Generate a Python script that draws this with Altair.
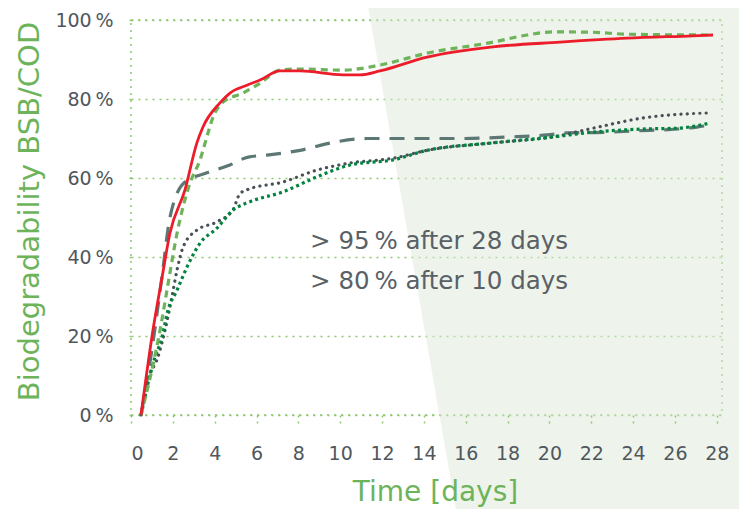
import altair as alt
import pandas as pd

# ---- data (days, % biodegradability) ----
red_x = [0.48, 1.05, 1.48, 1.86, 2.58, 3.15, 3.44, 4.25, 4.73, 5.54, 6.17, 7.12, 8.08, 10.13, 10.95, 11.90, 14.15, 17.30, 20.51, 23.71, 26.86, 27.82]
red_y = [0, 21.5, 34.7, 46, 57, 68.9, 72.9, 79, 81.5, 83.5, 84.8, 87.1, 87.1, 86.1, 86.1, 87.1, 90.6, 93.2, 94.4, 95.4, 96.0, 96.2]

lgreen_x = [0.48, 1.39, 1.82, 2.20, 2.82, 3.30, 3.68, 3.92, 4.40, 5.35, 6.17, 7.12, 8.08, 10.13, 11.90, 14.15, 17.30, 18.93, 20.17, 22.08, 23.71, 27.68]
lgreen_y = [0, 21.5, 34.7, 46, 58.7, 64.6, 71.4, 75.4, 79.2, 81.5, 84, 87.3, 87.6, 87.3, 88.6, 91.6, 94.4, 96.2, 97.0, 96.9, 96.4, 96.2]

slate_x = [0.48, 1.00, 1.48, 1.86, 2.58, 3.63, 4.73, 5.60, 6.50, 8.08, 9.66, 11.28, 15.73, 18.12, 19.89, 20.84, 22.90, 24.00, 26.10, 27.05, 27.68]
slate_y = [0, 16.5, 35, 50, 59, 61.3, 63.3, 65.3, 65.8, 67, 69, 70, 70, 70.4, 70.9, 71.4, 71.6, 71.9, 72.4, 72.9, 73.4]

gray_x = [0.48, 0.76, 1.29, 1.63, 1.96, 2.20, 2.49, 3.15, 4.11, 4.88, 5.20, 5.54, 7.27, 8.89, 10.47, 12.52, 14.15, 17.30, 20.17, 22.08, 24.47, 27.68]
gray_y = [0, 8, 14.7, 21.5, 30, 36.7, 42.5, 46.8, 48.9, 52, 56, 57, 59, 62, 63.8, 65, 67, 68.9, 70.4, 72.6, 75.2, 76.5]

dgreen_x = [0.48, 1.05, 1.48, 1.77, 2.20, 2.68, 3.30, 4.11, 4.88, 5.69, 7.27, 8.89, 10.47, 12.52, 14.15, 17.30, 20.17, 22.08, 24.47, 26.10, 27.68]
dgreen_y = [0, 13, 19.7, 26.6, 31.6, 37.5, 43.5, 47.3, 51.9, 54, 56.5, 60.3, 63.3, 64.6, 67, 68.9, 70.4, 71.6, 72.4, 72.6, 73.9]

x_ticks = list(range(0, 29, 2))
y_ticks = [0, 20, 40, 60, 80, 100]
notes = ["> 95\u2009% after 28 days", "> 80\u2009% after 10 days"]

GRID = "#8DC86F"
LABEL = "#50575C"
TITLE = "#6DB35A"
FONT = "DejaVu Sans"

x_scale = alt.Scale(domain=[0, 28.25], nice=False, zero=False)
y_scale = alt.Scale(domain=[0, 100], nice=False, zero=False)

x_axis = alt.Axis(values=x_ticks, grid=False, domain=False, ticks=True,
                  tickColor=GRID, tickDash=[2, 4], tickWidth=1.5, tickSize=12,
                  labelFontSize=19, labelColor=LABEL, labelPadding=17,
                  labelFont=FONT,
                  title="Time [days]", titleFontSize=28, titleColor=TITLE,
                  titleFont=FONT, titleFontWeight="normal", titleX=304,
                  titleY=85, titleBaseline="alphabetic", zindex=1)
y_axis = alt.Axis(values=y_ticks, grid=True, gridColor=GRID, gridDash=[2, 5],
                  gridWidth=1.5, domain=False, ticks=True, tickColor=GRID,
                  tickDash=[2, 5], tickWidth=1.5, tickSize=7,
                  labelExpr="datum.value + '\u2009%'", labelFontSize=19,
                  labelColor=LABEL, labelPadding=11, labelFont=FONT,
                  title="Biodegradability BSB/COD", titleFontSize=29,
                  titleColor=TITLE, titleFont=FONT, titleFontWeight="normal",
                  titleX=-93, titleY=191, titleBaseline="alphabetic")

X = alt.X("x:Q", scale=x_scale, axis=x_axis)
Y = alt.Y("y:Q", scale=y_scale, axis=y_axis)

# background tinted region (decoration)
bg = pd.DataFrame({"y": [112, -32], "x": [11.05, 15.80], "x2": [30, 30]})
bg_layer = alt.Chart(bg).mark_area(orient="horizontal", color="#DDE7D9",
                                   opacity=0.5, clip=False).encode(
    y=Y, x=X, x2="x2:Q")


def line(xs, ys, color, width, dash=None, cap="butt"):
    d = pd.DataFrame({"x": xs, "y": ys})
    kw = dict(color=color, strokeWidth=width, interpolate="monotone", strokeCap=cap)
    if dash is not None:
        kw["strokeDash"] = dash
    return alt.Chart(d).mark_line(**kw).encode(x=X, y=Y)


slate = line(slate_x, slate_y, "#5C7774", 3.2, [15, 10])
gray = line(gray_x, gray_y, "#4A5057", 3.2, [0.1, 6.2], cap="round")
dgreen = line(dgreen_x, dgreen_y, "#00843F", 3.2, [3, 3.2])
lgreen = line(lgreen_x, lgreen_y, "#6DB35A", 3.2, [7, 5])
red = line(red_x, red_y, "#EC1C2A", 2.8)

txt = pd.DataFrame({"x": [8.56, 8.56], "y": [43.8, 33.7], "t": notes})
text_layer = alt.Chart(txt).mark_text(align="left", baseline="middle",
                                      fontSize=24.5, font=FONT,
                                      color="#596166").encode(
    x=X, y=Y, text="t:N")

chart = alt.layer(bg_layer, slate, gray, dgreen, lgreen, red, text_layer).properties(
    width=591, height=395,
    autosize=alt.AutoSizeParams(type="none"),
    padding={"left": 123, "top": 12, "right": 17, "bottom": 94},
).configure(font=FONT).configure_view(
    stroke=GRID, strokeDash=[2, 5], strokeWidth=1.5)

chart.save("out.html", embed_options={"renderer": "svg", "actions": False})
